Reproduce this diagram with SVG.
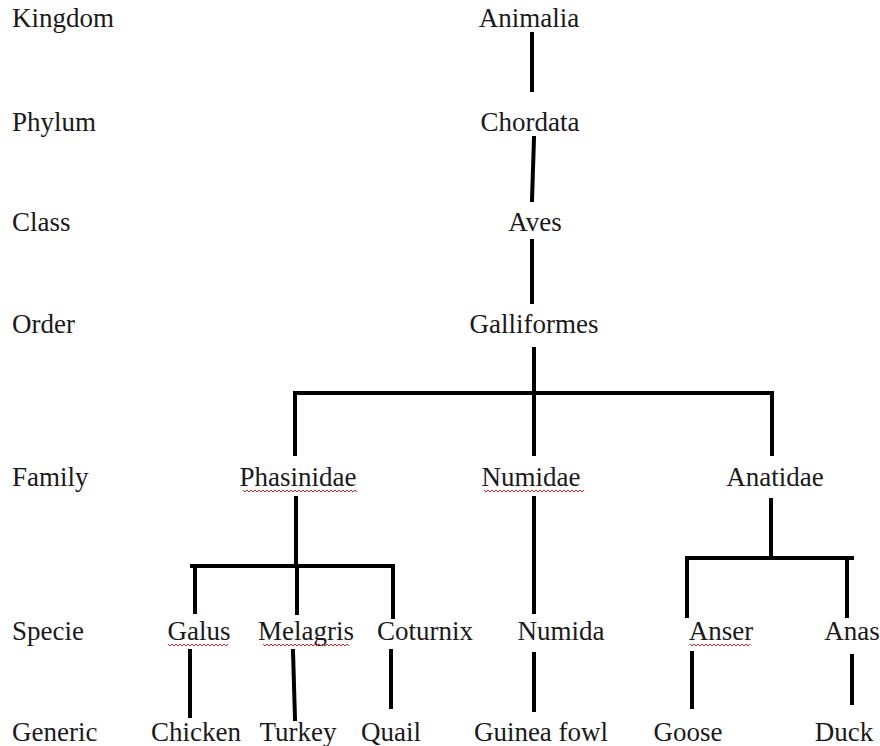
<svg xmlns="http://www.w3.org/2000/svg" width="880" height="746" viewBox="0 0 880 746">
<style>
text{font-family:"Liberation Serif","Times New Roman",serif;font-size:27px;fill:#1a1a1a}
.n{text-anchor:middle}
.c line{stroke:#000;stroke-width:4;stroke-linecap:square}
.sq{fill:none;stroke:#e02020;stroke-width:1}
</style>
<rect width="880" height="746" fill="#fff"/>
<g id="ranks">
<text x="12" y="27">Kingdom</text>
<text x="12" y="131">Phylum</text>
<text x="12" y="231">Class</text>
<text x="12" y="333">Order</text>
<text x="12" y="486">Family</text>
<text x="12" y="640">Specie</text>
<text x="12" y="741">Generic</text>
</g>
<g id="connectors" class="c">
<line x1="532" y1="34" x2="532" y2="90"/>
<line x1="534" y1="138" x2="532" y2="200"/>
<line x1="532" y1="241" x2="532" y2="302"/>
<line x1="534" y1="349" x2="534" y2="393"/>
<line x1="295" y1="393" x2="772" y2="393"/>
<line x1="295" y1="393" x2="295" y2="454"/>
<line x1="534" y1="393" x2="534" y2="454"/>
<line x1="772" y1="393" x2="772" y2="454"/>
<line x1="296" y1="498" x2="296" y2="566"/>
<line x1="192" y1="566" x2="392" y2="566"/>
<line x1="195" y1="566" x2="195" y2="612"/>
<line x1="297" y1="566" x2="297" y2="613"/>
<line x1="393" y1="566" x2="393" y2="617"/>
<line x1="534" y1="498" x2="534" y2="612"/>
<line x1="771" y1="500" x2="771" y2="558"/>
<line x1="687" y1="558" x2="852" y2="558"/>
<line x1="687" y1="558" x2="687" y2="616"/>
<line x1="847" y1="558" x2="847" y2="616"/>
<line x1="190" y1="651" x2="190" y2="716"/>
<line x1="293" y1="651" x2="295" y2="719"/>
<line x1="391" y1="651" x2="391" y2="707"/>
<line x1="534" y1="654" x2="534" y2="710"/>
<line x1="692" y1="653" x2="692" y2="707"/>
<line x1="852" y1="656" x2="852" y2="703"/>
</g>
<g id="animalia"><text class="n" x="529" y="27">Animalia</text></g>
<g id="chordata"><text class="n" x="530" y="131">Chordata</text></g>
<g id="aves"><text class="n" x="535" y="231">Aves</text></g>
<g id="galliformes"><text class="n" x="534" y="333">Galliformes</text></g>
<g id="phasinidae"><text class="n" x="298" y="486">Phasinidae</text><path class="sq" d="M243,490 l2,2 l2,-2 l2,2 l2,-2 l2,2 l2,-2 l2,2 l2,-2 l2,2 l2,-2 l2,2 l2,-2 l2,2 l2,-2 l2,2 l2,-2 l2,2 l2,-2 l2,2 l2,-2 l2,2 l2,-2 l2,2 l2,-2 l2,2 l2,-2 l2,2 l2,-2 l2,2 l2,-2 l2,2 l2,-2 l2,2 l2,-2 l2,2 l2,-2 l2,2 l2,-2 l2,2 l2,-2 l2,2 l2,-2 l2,2 l2,-2 l2,2 l2,-2 l2,2 l2,-2 l2,2 l2,-2 l2,2 l2,-2 l2,2 l2,-2 l2,2 l2,-2 l2,2"/></g>
<g id="numidae"><text class="n" x="531" y="486">Numidae</text><path class="sq" d="M484,490 l2,2 l2,-2 l2,2 l2,-2 l2,2 l2,-2 l2,2 l2,-2 l2,2 l2,-2 l2,2 l2,-2 l2,2 l2,-2 l2,2 l2,-2 l2,2 l2,-2 l2,2 l2,-2 l2,2 l2,-2 l2,2 l2,-2 l2,2 l2,-2 l2,2 l2,-2 l2,2 l2,-2 l2,2 l2,-2 l2,2 l2,-2 l2,2 l2,-2 l2,2 l2,-2 l2,2 l2,-2 l2,2 l2,-2 l2,2 l2,-2 l2,2 l2,-2 l2,2 l2,-2 l2,2 l2,-2"/></g>
<g id="anatidae"><text class="n" x="775" y="486">Anatidae</text></g>
<g id="galus"><text class="n" x="199" y="640">Galus</text><path class="sq" d="M168,644 l2,2 l2,-2 l2,2 l2,-2 l2,2 l2,-2 l2,2 l2,-2 l2,2 l2,-2 l2,2 l2,-2 l2,2 l2,-2 l2,2 l2,-2 l2,2 l2,-2 l2,2 l2,-2 l2,2 l2,-2 l2,2 l2,-2 l2,2 l2,-2 l2,2 l2,-2 l2,2 l2,-2"/></g>
<g id="melagris"><text class="n" x="306" y="640">Melagris</text><path class="sq" d="M263,644 l2,2 l2,-2 l2,2 l2,-2 l2,2 l2,-2 l2,2 l2,-2 l2,2 l2,-2 l2,2 l2,-2 l2,2 l2,-2 l2,2 l2,-2 l2,2 l2,-2 l2,2 l2,-2 l2,2 l2,-2 l2,2 l2,-2 l2,2 l2,-2 l2,2 l2,-2 l2,2 l2,-2 l2,2 l2,-2 l2,2 l2,-2 l2,2 l2,-2 l2,2 l2,-2 l2,2 l2,-2 l2,2 l2,-2 l2,2"/></g>
<g id="coturnix"><text class="n" x="425" y="640">Coturnix</text></g>
<g id="numida"><text class="n" x="561" y="640">Numida</text></g>
<g id="anser"><text class="n" x="721" y="640">Anser</text><path class="sq" d="M690,644 l2,2 l2,-2 l2,2 l2,-2 l2,2 l2,-2 l2,2 l2,-2 l2,2 l2,-2 l2,2 l2,-2 l2,2 l2,-2 l2,2 l2,-2 l2,2 l2,-2 l2,2 l2,-2 l2,2 l2,-2 l2,2 l2,-2 l2,2 l2,-2 l2,2 l2,-2 l2,2 l2,-2"/></g>
<g id="anas"><text class="n" x="852" y="640">Anas</text></g>
<g id="chicken"><text class="n" x="196" y="741">Chicken</text></g>
<g id="turkey"><text class="n" x="298" y="741">Turkey</text></g>
<g id="quail"><text class="n" x="391" y="741">Quail</text></g>
<g id="guineafowl"><text class="n" x="541" y="741">Guinea fowl</text></g>
<g id="goose"><text class="n" x="688" y="741">Goose</text></g>
<g id="duck"><text class="n" x="844" y="741">Duck</text></g>
</svg>
